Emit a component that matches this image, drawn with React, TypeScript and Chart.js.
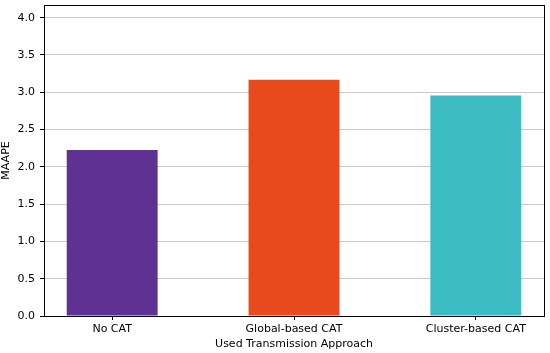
import React, { useEffect, useRef } from "react";
import { Chart, registerables } from "chart.js";

Chart.register(...registerables);

const categories = ["No CAT", "Global-based CAT", "Cluster-based CAT"];
const maapeValues = [2.225, 3.167, 2.958];
const barColors = ["#5e3192", "#e94a1d", "#3dbbc3"];
const yTickValues = [0, 0.5, 1, 1.5, 2, 2.5, 3, 3.5, 4];

const FONT = "'DejaVu Sans', sans-serif";

const framePlugin = {
  id: "frame",
  afterDraw(chart: any) {
    const { ctx, chartArea } = chart;
    ctx.save();
    ctx.strokeStyle = "#000";
    ctx.lineWidth = 1;
    ctx.strokeRect(
      Math.round(chartArea.left) + 0.5,
      Math.round(chartArea.top) + 0.5,
      Math.round(chartArea.right - chartArea.left),
      Math.round(chartArea.bottom - chartArea.top)
    );
    ctx.restore();
  },
};

export default function App() {
  const ref = useRef<HTMLCanvasElement | null>(null);
  useEffect(() => {
    if (!ref.current) return;
    const chart = new Chart(ref.current, {
      type: "bar",
      data: {
        datasets: [
          {
            label: "MAAPE",
            data: maapeValues.map((v, i) => ({ x: i, y: v })),
            backgroundColor: barColors,
            borderWidth: 0,
            barPercentage: 0.5,
            categoryPercentage: 1,
          },
        ],
      },
      options: {
        animation: false,
        responsive: false,
        maintainAspectRatio: false,
        layout: { padding: { top: 5, right: 6, left: 0, bottom: 0 } },
        plugins: { legend: { display: false }, tooltip: { enabled: false } },
        scales: {
          x: {
            type: "linear",
            min: -0.375,
            max: 2.375,
            offset: false,
            afterBuildTicks: (scale: any) => {
              scale.ticks = categories.map((_, i) => ({ value: i }));
            },
            afterFit: (scale: any) => {
              scale.height = 37;
              scale.paddingLeft = 0;
              scale.paddingRight = 0;
            },
            ticks: {
              color: "#000",
              font: { family: FONT, size: 11 },
              padding: 3,
              maxRotation: 0,
              autoSkip: false,
              callback: (v: any) => categories[v] ?? "",
            },
            grid: {
              display: true,
              offset: false,
              drawOnChartArea: false,
              drawTicks: true,
              tickLength: 4,
              tickColor: "#000",
            },
            border: { display: true, color: "#000", width: 1 },
            title: {
              display: true,
              text: "Used Transmission Approach",
              color: "#000",
              font: { family: FONT, size: 11 },
              padding: { top: 0, bottom: 2 },
            },
          },
          y: {
            min: 0,
            max: 4.17,
            z: 1,
            afterBuildTicks: (scale: any) => {
              scale.ticks = yTickValues.map((v) => ({ value: v }));
            },
            afterFit: (scale: any) => {
              scale.width = 44;
              scale.paddingTop = 0;
              scale.paddingBottom = 0;
            },
            ticks: {
              color: "#000",
              font: { family: FONT, size: 11 },
              padding: 5,
              includeBounds: false,
              callback: (v: any) => Number(v).toFixed(1),
            },
            grid: {
              color: "rgba(180,180,180,0.7)",
              lineWidth: 1,
              drawTicks: true,
              tickLength: 4,
              tickColor: "#000",
            },
            border: { display: true, color: "#000", width: 1 },
            title: {
              display: true,
              text: "MAAPE",
              color: "#000",
              font: { family: FONT, size: 11 },
              padding: { top: 0, bottom: 0 },
            },
          },
        },
      },
      plugins: [framePlugin],
    } as any);
    return () => chart.destroy();
  }, []);
  return (
    <div style={{ position: "fixed", left: 0, top: 0, width: 550, height: 353, background: "#fff" }}>
      <canvas ref={ref} width={550} height={353} style={{ display: "block" }} />
    </div>
  );
}
